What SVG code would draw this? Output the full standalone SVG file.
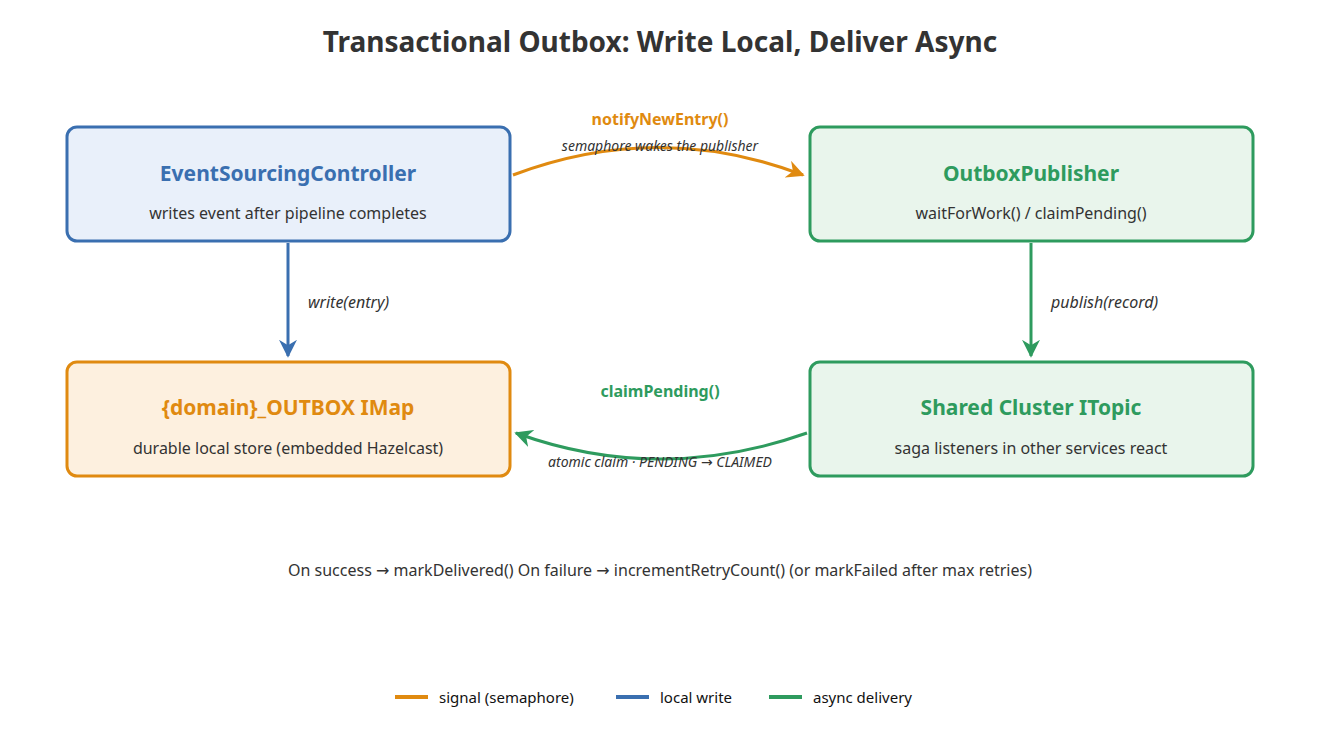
<svg xmlns="http://www.w3.org/2000/svg" width="1320" height="729" viewBox="0 0 1320 729">
<style>
text{font-family:"Noto Sans","DejaVu Sans",sans-serif;fill:#333}
.t{font-size:28px;font-weight:bold;text-anchor:middle}
.h{font-size:21px;font-weight:bold;text-anchor:middle}
.s{font-size:16px;text-anchor:middle}
.l{font-size:16px;font-style:italic}
.e{font-size:14px;font-style:italic;text-anchor:middle}
.lg{font-size:15px;fill:#111}
</style>
<defs>
<marker id="ao" viewBox="0 0 10 10" refX="9" refY="5" markerWidth="6" markerHeight="6" orient="auto"><path d="M0,0 L10,5 L0,10 L3,5z" fill="#e08a10"/></marker>
<marker id="ab" viewBox="0 0 10 10" refX="9" refY="5" markerWidth="6" markerHeight="6" orient="auto"><path d="M0,0 L10,5 L0,10 L3,5z" fill="#3a6fb0"/></marker>
<marker id="ag" viewBox="0 0 10 10" refX="9" refY="5" markerWidth="6" markerHeight="6" orient="auto"><path d="M0,0 L10,5 L0,10 L3,5z" fill="#2e9b5e"/></marker>
</defs>
<rect width="1320" height="729" fill="#fff"/>
<text class="t" x="660" y="52">Transactional Outbox: Write Local, Deliver Async</text>
<g id="controller"><rect x="67" y="127" width="443" height="114" rx="10" fill="#e9f0fa" stroke="#3a6fb0" stroke-width="3"/>
<text class="h" x="288" y="181" fill="#3a6fb0" style="fill:#3a6fb0">EventSourcingController</text>
<text class="s" x="288" y="219">writes event after pipeline completes</text></g>
<g id="publisher"><rect x="810" y="127" width="443" height="114" rx="10" fill="#e9f5ec" stroke="#2e9b5e" stroke-width="3"/>
<text class="h" x="1031" y="181" style="fill:#2e9b5e">OutboxPublisher</text>
<text class="s" x="1031" y="219">waitForWork()  /  claimPending()</text></g>
<g id="outbox"><rect x="67" y="362" width="443" height="114" rx="10" fill="#fdf0df" stroke="#e08a10" stroke-width="3"/>
<text class="h" x="288" y="415" style="fill:#e08a10">{domain}_OUTBOX  IMap</text>
<text class="s" x="288" y="454">durable local store (embedded Hazelcast)</text></g>
<g id="topic"><rect x="810" y="362" width="443" height="114" rx="10" fill="#e9f5ec" stroke="#2e9b5e" stroke-width="3"/>
<text class="h" x="1031" y="415" style="fill:#2e9b5e">Shared Cluster  ITopic</text>
<text class="s" x="1031" y="454">saga listeners in other services react</text></g>
<g id="connectors" fill="none" stroke-width="3">
<path d="M513,175 Q659,120 803,175" stroke="#e08a10" marker-end="url(#ao)"/>
<path d="M807,433 Q659,485 516,433" stroke="#2e9b5e" marker-end="url(#ag)"/>
<path d="M288,243 L288,356" stroke="#3a6fb0" marker-end="url(#ab)"/>
<path d="M1031,243 L1031,356" stroke="#2e9b5e" marker-end="url(#ag)"/>
</g>
<text x="660" y="125" style="font-size:16px;font-weight:bold;fill:#e08a10;text-anchor:middle">notifyNewEntry()</text>
<text class="e" x="660" y="151">semaphore wakes the publisher</text>
<text x="660" y="397" style="font-size:16px;font-weight:bold;fill:#2e9b5e;text-anchor:middle">claimPending()</text>
<text class="e" x="660" y="467">atomic claim · PENDING → CLAIMED</text>
<text class="l" x="308" y="308">write(entry)</text>
<text class="l" x="1051" y="308">publish(record)</text>
<text class="s" x="660" y="576">On success  →  markDelivered()        On failure  →  incrementRetryCount()  (or markFailed after max retries)</text>
<g id="legend" stroke-width="4">
<line x1="395" y1="697" x2="428" y2="697" stroke="#e08a10"/>
<line x1="616" y1="697" x2="649" y2="697" stroke="#3a6fb0"/>
<line x1="769" y1="697" x2="802" y2="697" stroke="#2e9b5e"/>
<text class="lg" x="439" y="703">signal (semaphore)</text>
<text class="lg" x="660" y="703">local write</text>
<text class="lg" x="813" y="703">async delivery</text>
</g>
</svg>
